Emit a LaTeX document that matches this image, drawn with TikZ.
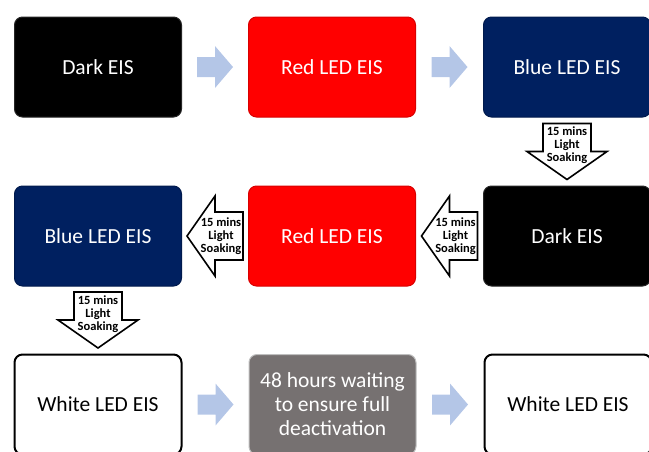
\documentclass[tikz,border=0pt]{standalone}
\usepackage{fontspec}
\setmainfont{Carlito}
\usepackage{xcolor}
\usetikzlibrary{positioning,calc}
\definecolor{navyblue}{HTML}{002060}
\definecolor{ledred}{HTML}{FF0000}
\definecolor{waitgray}{HTML}{767171}
\definecolor{paleblue}{HTML}{B4C6E7}

\tikzset{
  stepbox/.style={draw,rounded corners=8pt,minimum width=167pt,
    minimum height=100pt,align=center,line width=1pt,
    font=\fontsize{21.5}{24}\selectfont},
  darkbox/.style={stepbox,fill=black,draw=black!85,text=white},
  redbox/.style={stepbox,fill=ledred,draw=ledred!85!black,text=white},
  bluebox/.style={stepbox,fill=navyblue,draw=navyblue!80!black,text=white},
  whitebox/.style={stepbox,fill=white,draw=black,line width=2pt,text=black},
  graybox/.style={stepbox,fill=waitgray,draw=black!25,text=white},
  flowarrow/.pic={
    \fill[paleblue] (-18,-10) -- (0,-10) -- (0,-21) -- (18,0)
      -- (0,21) -- (0,10) -- (-18,10) -- cycle;
  },
  soakarrow/.pic={
    \draw[line width=1.6pt,fill=white,line join=miter]
      (-24,-28) -- (24,-28) -- (24,0) -- (40,0) -- (0,28)
      -- (-40,0) -- (-24,0) -- cycle;
    \node[align=center,font=\bfseries\fontsize{12.5}{13}\selectfont]
      (soaktext) at (0,-6) {15 mins\\Light\\Soaking};
  }
}

\begin{document}
\begin{tikzpicture}[x=1pt,y=-1pt]
  \useasboundingbox (0,0) rectangle (649,451);
  % first row
  \node[darkbox] (dark1) at (98,67) {Dark EIS};
  \node[redbox,right=66pt of dark1] (red1) {Red LED EIS};
  \node[bluebox,right=67pt of red1] (blue1) {Blue LED EIS};
  % second row, right to left
  \node[darkbox,below=68pt of blue1] (dark2) {Dark EIS};
  \node[redbox,left=67pt of dark2] (red2) {Red LED EIS};
  \node[bluebox,left=66pt of red2] (blue2) {Blue LED EIS};
  % third row
  \node[whitebox,below=67pt of blue2] (white1) {White LED EIS};
  \node[graybox,right=66pt of white1] (wait)
    {48 hours waiting\\to ensure full\\deactivation};
  \node[whitebox,right=67pt of wait] (white2) {White LED EIS};

  \pic at ($(dark1.east)!0.5!(red1.west)$) {flowarrow};
  \pic at ($(red1.east)!0.5!(blue1.west)$) {flowarrow};
  \pic at ($(white1.east)!0.5!(wait.west)$) {flowarrow};
  \pic at ($(wait.east)!0.5!(white2.west)$) {flowarrow};

  \pic at ($(blue1.south)!0.5!(dark2.north)$) {soakarrow};
  \pic[rotate=-90] at ($(dark2.west)!0.5!(red2.east)$) {soakarrow};
  \pic[rotate=-90] at ($(red2.west)!0.5!(blue2.east)$) {soakarrow};
  \pic at ($(blue2.south)!0.5!(white1.north)$) {soakarrow};
\end{tikzpicture}
\end{document}
